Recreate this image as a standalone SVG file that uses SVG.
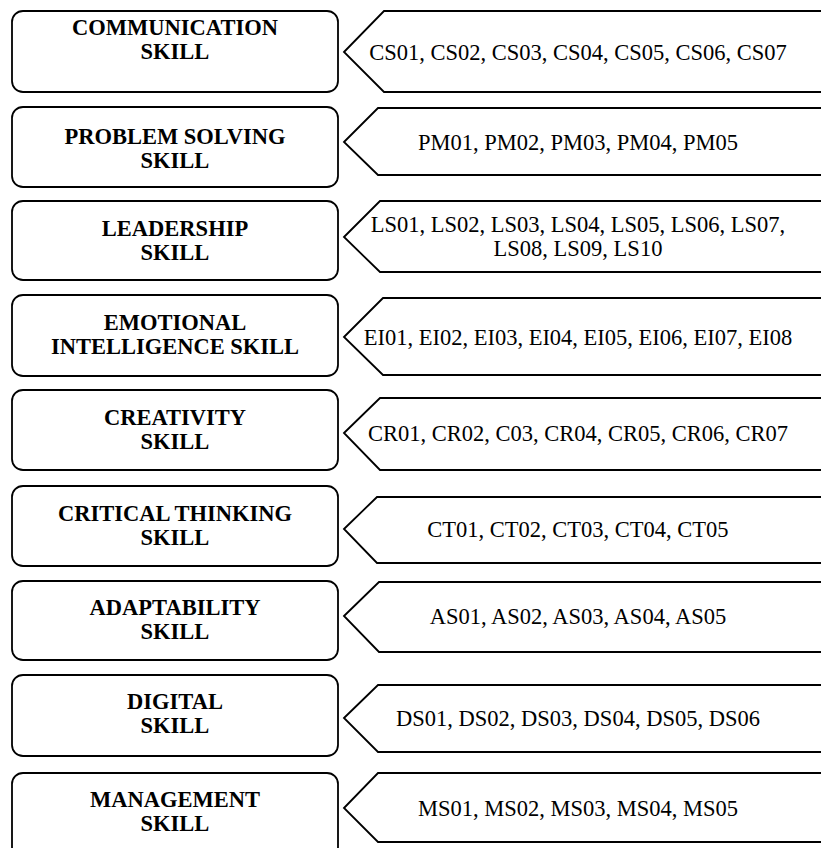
<svg xmlns="http://www.w3.org/2000/svg" width="821" height="848" viewBox="0 0 821 848">
<style>
.box{fill:#fff;stroke:#000;stroke-width:1.8}
.tag{fill:#fff;stroke:#000;stroke-width:1.8}
.lbl{font-family:"Liberation Serif","Times New Roman",serif;font-weight:bold;font-size:22.5px;text-anchor:middle;fill:#000}
.code{font-family:"Liberation Serif","Times New Roman",serif;font-size:22.5px;text-anchor:middle;fill:#000}
</style>
<rect width="821" height="848" fill="#fff"/>
<g id="row1">
<rect class="box" x="12" y="11" width="326" height="81" rx="11"/>
<text class="lbl" x="175" y="35">COMMUNICATION</text>
<text class="lbl" x="175" y="58.5">SKILL</text>
<polygon class="tag" points="344,52 384,11 830,11 830,92 384,92"/>
<text class="code" x="578" y="59.5">CS01, CS02, CS03, CS04, CS05, CS06, CS07</text>
</g>
<g id="row2">
<rect class="box" x="12" y="107" width="326" height="80" rx="11"/>
<text class="lbl" x="175" y="144">PROBLEM SOLVING</text>
<text class="lbl" x="175" y="167.5">SKILL</text>
<polygon class="tag" points="344,142 378,108 830,108 830,175 378,175"/>
<text class="code" x="578" y="149.5">PM01, PM02, PM03, PM04, PM05</text>
</g>
<g id="row3">
<rect class="box" x="12" y="201" width="326" height="79" rx="11"/>
<text class="lbl" x="175" y="236">LEADERSHIP</text>
<text class="lbl" x="175" y="259.5">SKILL</text>
<polygon class="tag" points="344,237 380,201 830,201 830,272 380,272"/>
<text class="code" x="578" y="232">LS01, LS02, LS03, LS04, LS05, LS06, LS07,</text>
<text class="code" x="578" y="255.5">LS08, LS09, LS10</text>
</g>
<g id="row4">
<rect class="box" x="12" y="295" width="326" height="81" rx="11"/>
<text class="lbl" x="175" y="330">EMOTIONAL</text>
<text class="lbl" x="175" y="353.5">INTELLIGENCE SKILL</text>
<polygon class="tag" points="344,337 383,298 830,298 830,375 383,375"/>
<text class="code" x="578" y="344.5">EI01, EI02, EI03, EI04, EI05, EI06, EI07, EI08</text>
</g>
<g id="row5">
<rect class="box" x="12" y="390" width="326" height="80" rx="11"/>
<text class="lbl" x="175" y="425">CREATIVITY</text>
<text class="lbl" x="175" y="448.5">SKILL</text>
<polygon class="tag" points="344,433 380,398 830,398 830,470 380,470"/>
<text class="code" x="578" y="440.5">CR01, CR02, C03, CR04, CR05, CR06, CR07</text>
</g>
<g id="row6">
<rect class="box" x="12" y="486" width="326" height="80" rx="11"/>
<text class="lbl" x="175" y="521">CRITICAL THINKING</text>
<text class="lbl" x="175" y="544.5">SKILL</text>
<polygon class="tag" points="344,529 377,497 830,497 830,563 377,563"/>
<text class="code" x="578" y="536.5">CT01, CT02, CT03, CT04, CT05</text>
</g>
<g id="row7">
<rect class="box" x="12" y="581" width="326" height="79" rx="11"/>
<text class="lbl" x="175" y="615">ADAPTABILITY</text>
<text class="lbl" x="175" y="638.5">SKILL</text>
<polygon class="tag" points="344,616 379,582 830,582 830,652 379,652"/>
<text class="code" x="578" y="623.5">AS01, AS02, AS03, AS04, AS05</text>
</g>
<g id="row8">
<rect class="box" x="12" y="675" width="326" height="81" rx="11"/>
<text class="lbl" x="175" y="709">DIGITAL</text>
<text class="lbl" x="175" y="732.5">SKILL</text>
<polygon class="tag" points="344,718 378,685 830,685 830,752 378,752"/>
<text class="code" x="578" y="725.5">DS01, DS02, DS03, DS04, DS05, DS06</text>
</g>
<g id="row9">
<rect class="box" x="12" y="773" width="326" height="85" rx="11"/>
<text class="lbl" x="175" y="807">MANAGEMENT</text>
<text class="lbl" x="175" y="830.5">SKILL</text>
<polygon class="tag" points="344,808 378,773 830,773 830,842 378,842"/>
<text class="code" x="578" y="815.5">MS01, MS02, MS03, MS04, MS05</text>
</g>
<g id="connectors"></g>
</svg>
